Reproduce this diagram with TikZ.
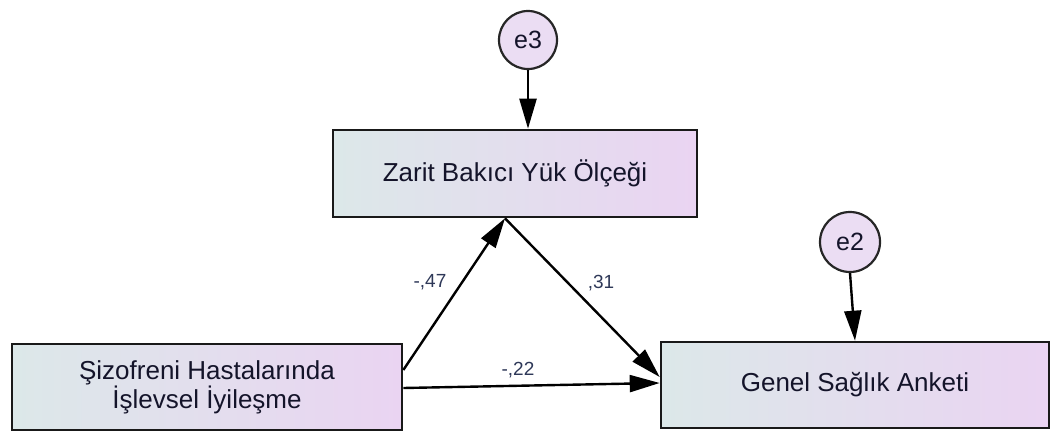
\documentclass[tikz,border=0pt]{standalone}
\usepackage{fontspec}
\setmainfont{Liberation Sans}
\usetikzlibrary{arrows.meta,calc}
\definecolor{boxleft}{HTML}{DCE8E9}
\definecolor{boxright}{HTML}{EAD4F2}
\definecolor{circfill}{HTML}{EBDDF3}
\definecolor{txt}{HTML}{14142A}
\definecolor{lbl}{HTML}{2E3858}
\tikzset{
  varbox/.style={draw=black!90, line width=2.6pt, left color=boxleft, right color=boxright,
    inner sep=0pt, align=center, text=txt, font=\fontsize{26}{27}\selectfont},
  errc/.style={circle, draw=black!85, line width=2.2pt, fill=circfill, inner sep=0pt,
    text=txt, font=\fontsize{25}{27}\selectfont},
  path/.style={draw=black, line width=2.4pt, -{Triangle[length=30pt,width=17pt]}},
  coef/.style={text=lbl, font=\fontsize{19}{21}\selectfont, inner sep=0pt}
}
\begin{document}
\begin{tikzpicture}[x=1pt,y=-1pt]
\useasboundingbox (0,0) rectangle (1051,434);
\node[varbox, minimum width=364pt, minimum height=87pt] (zarit) at (515,173.5) {Zarit Bakıcı Yük Ölçeği};
\node[varbox, minimum width=390pt, minimum height=86pt] (sizo) at (207,387) {Şizofreni Hastalarında\\İşlevsel İyileşme};
\node[varbox, minimum width=388pt, minimum height=86pt] (genel) at (855,385) {Genel Sağlık Anketi};
\node[errc, minimum size=58pt] (e3) at (528,40) {e3};
\node[errc, minimum size=60pt] (e2) at (850,242) {e2};
\draw[path] (e3.south) -- (e3.south |- zarit.north);
\draw[path] (e2.south) -- (genel.north);
\draw[path] ($(sizo.east)+(0,-17)$) -- ($(zarit.south)+(-10,0)$);
\draw[path] ($(zarit.south)+(-10,0)$) -- ($(genel.west)+(0,-8)$);
\draw[path] ($(sizo.east)+(0,1)$) -- ($(genel.west)+(0,-2)$);
\node[coef] (c1) at (430,282) {-,47};
\node[coef] (c2) at (601,283) {,31};
\node[coef] (c3) at (518,370) {-,22};
\end{tikzpicture}
\end{document}
